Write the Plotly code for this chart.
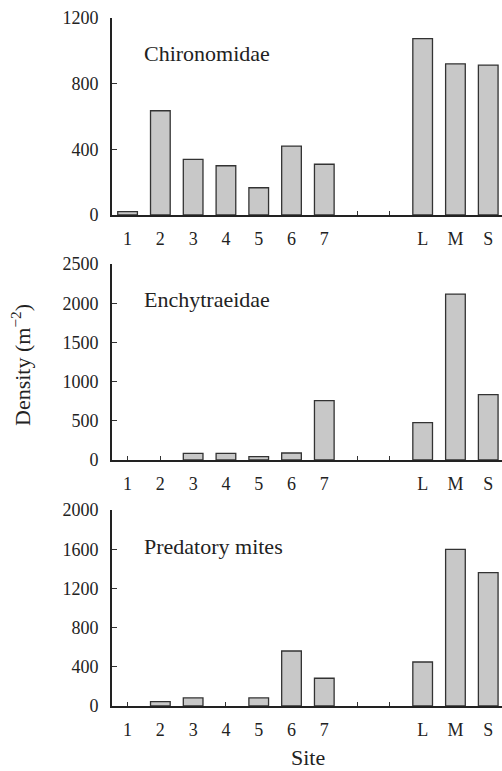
import plotly.graph_objects as go

sites = ["1", "2", "3", "4", "5", "6", "7", "L", "M", "S"]
site_pos = [1, 2, 3, 4, 5, 6, 7, 10, 11, 12]
tick_pos = [1, 2, 3, 4, 5, 6, 7, 8, 9, 10, 11, 12]
tick_text = ["1", "2", "3", "4", "5", "6", "7", "", "", "L", "M", "S"]

chironomidae = [20, 635, 339, 300, 166, 420, 309, 1074, 921, 913]
enchytraeidae = [0, 0, 85, 85, 42, 89, 757, 476, 2117, 833]
predatory_mites = [0, 44, 82, 0, 82, 561, 283, 449, 1599, 1360]

panels = [
    ("Chironomidae", chironomidae, [0, 1200], [0, 400, 800, 1200]),
    ("Enchytraeidae", enchytraeidae, [0, 2500], [0, 500, 1000, 1500, 2000, 2500]),
    ("Predatory mites", predatory_mites, [0, 2000], [0, 400, 800, 1200, 1600, 2000]),
]

H = 771.0
W = 502.0
# pixel positions (top, bottom) of each panel
pix = [(18, 215), (264, 460), (510, 706)]

FONT = "Liberation Serif, Times New Roman, serif"
fig = go.Figure()
layout = dict(
    width=502, height=771,
    margin=dict(l=0, r=0, t=0, b=0, autoexpand=False),
    paper_bgcolor="white", plot_bgcolor="white",
    showlegend=False,
    font=dict(family=FONT, size=18, color="#222"),
)
annotations = []
for i, (name, vals, yr, yt) in enumerate(panels):
    n = "" if i == 0 else str(i + 1)
    xs = [p for p, v in zip(site_pos, vals) if v > 0]
    ys = [v for v in vals if v > 0]
    # ticks visible only where no bar covers them
    free_ticks = [p for p in tick_pos if p not in xs]
    fig.add_trace(go.Bar(
        x=xs, y=ys, width=0.6,
        marker=dict(color="#c8c8c8", line=dict(color="#333", width=1.3)),
        xaxis="x" + n, yaxis="y" + n,
    ))
    top, bot = pix[i]
    layout["xaxis" + n] = dict(
        domain=[112 / W, 1.0], range=[0.525, 12.42],
        anchor="y" + n, tickmode="array", tickvals=tick_pos, ticktext=tick_text,
        ticks="", ticklen=0,
        minor=dict(tickmode="array", tickvals=free_ticks, ticks="inside",
                   ticklen=4, tickwidth=1.2, tickcolor="#333", showgrid=False),
        showline=True, linecolor="#222", linewidth=1.8,
        showgrid=False, zeroline=False,
        tickfont=dict(family=FONT, size=18, color="#222"),
        ticklabelstandoff=6, automargin=False,
    )
    layout["yaxis" + n] = dict(
        domain=[1 - bot / H, 1 - top / H], range=yr,
        anchor="x" + n, tickmode="array", tickvals=yt,
        ticks="inside", ticklen=5, tickwidth=1.2, tickcolor="#333",
        showline=True, linecolor="#222", linewidth=1.8,
        showgrid=False, zeroline=False,
        tickfont=dict(family=FONT, size=18, color="#222"),
        ticklabelstandoff=8, automargin=False,
    )
    annotations.append(dict(
        text=name, xref="paper", yref="paper",
        x=142 / W, y=1 - (top + 36) / H, xanchor="left", yanchor="middle",
        showarrow=False, font=dict(family=FONT, size=22, color="#222"),
    ))

annotations.append(dict(
    text="Density (m<sup>−2</sup>)", xref="paper", yref="paper",
    x=21 / W, y=1 - 365 / H, textangle=-90, xanchor="center", yanchor="middle",
    showarrow=False, font=dict(family=FONT, size=22, color="#222"),
))
annotations.append(dict(
    text="Site", xref="paper", yref="paper",
    x=308 / W, y=1 - 757 / H, xanchor="center", yanchor="middle",
    showarrow=False, font=dict(family=FONT, size=22, color="#222"),
))
layout["annotations"] = annotations
fig.update_layout(**layout)
fig.write_html("out.html")
